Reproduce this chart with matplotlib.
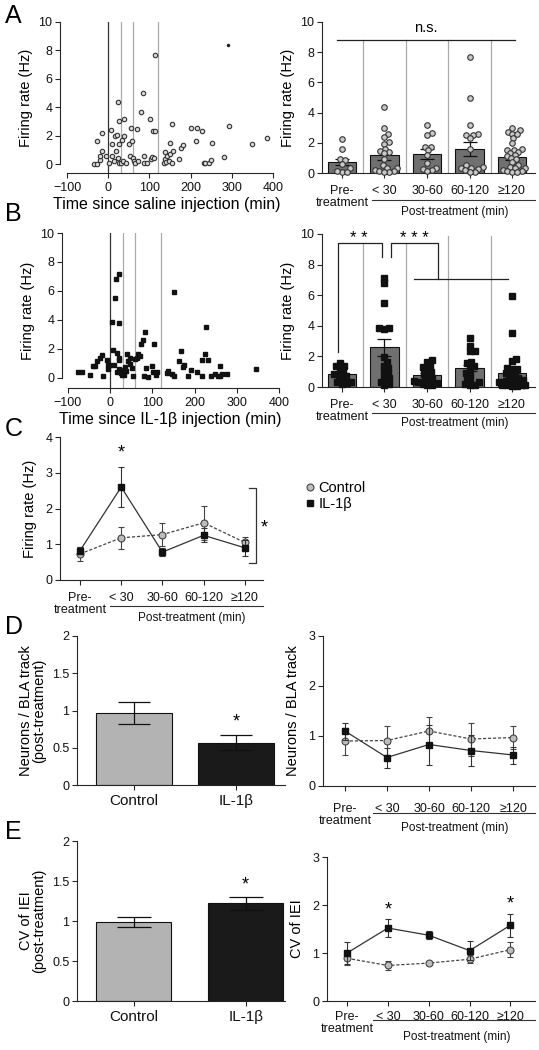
import matplotlib
matplotlib.use('Agg')
import matplotlib.pyplot as plt
import numpy as np
from matplotlib.transforms import blended_transform_factory, ScaledTranslation
from matplotlib.lines import Line2D

plt.rcParams['font.family'] = ['Liberation Sans', 'DejaVu Sans']

# ------------------------------------------------------------------ data
cats = ['Pre-\ntreatment', '< 30', '30-60', '60-120', '\u2265120']

# A: time course after saline
sal_time = [-35, -28, -27, -21, -21, -15, -16, -6, 2, 8,
            10, 10, 14, 16, 20, 22, 23, 24, 26, 26,
            27, 30, 34, 36, 39, 39, 44, 50, 54, 56,
            57, 61, 62, 66, 70, 73, 80, 84, 86, 88,
            93, 102, 104, 106, 109, 114, 114, 110, 135, 137,
            139, 140, 143, 148, 150, 149, 154, 155, 157, 171,
            176, 181, 201, 215, 214, 227, 232, 236, 244, 250,
            252, 281, 294, 350, 385]
sal_rate = [0.0, 0.0, 1.6, 0.3, 0.6, 2.2, 0.9, 0.55, 0.07, 2.4,
            1.4, 0.6, 0.2, 1.95, 0.9, 2.05, 4.4, 0.4, 0.1, 3.0,
            1.4, 0.07, 1.7, 0.2, 3.15, 2.0, 0.07, 1.4, 0.6, 2.55,
            1.6, 0.4, 0.2, 0.1, 2.5, 0.2, 3.65, 5.0, 0.1, 0.6,
            0.07, 3.2, 0.35, 0.5, 2.35, 2.35, 7.7, 0.4, 0.07, 0.85,
            0.35, 0.15, 0.55, 0.2, 1.5, 0.7, 2.85, 0.07, 0.95, 0.35,
            1.1, 1.35, 2.55, 2.55, 1.6, 2.3, 0.07, 0.07, 0.1, 0.3,
            1.5, 0.5, 2.65, 1.4, 1.85]
sal_extra_time = [290]
sal_extra_rate = [8.4]

# B: time course after IL-1beta
il_time = [-76, -67, -47, -41, -35, -31, -25, -20, -18, -8,
           -6, -4, 0, 4, 6, 8, 12, 14, 16, 17,
           20, 20, 21, 20, 22, 25, 28, 30, 31, 34,
           35, 38, 41, 43, 46, 47, 51, 55, 59, 63,
           65, 71, 72, 77, 80, 83, 84, 89, 100, 101,
           105, 109, 110, 134, 138, 146, 152, 152, 163, 169,
           173, 175, 185, 192, 205, 217, 217, 224, 226, 231,
           240, 248, 256, 261, 261, 266, 278, 345]
il_rate = [0.41, 0.39, 0.23, 0.8, 0.8, 1.2, 1.38, 1.56, 0.16, 1.26,
           0.64, 0.92, 0.92, 3.84, 1.95, 0.87, 5.5, 6.8, 0.41, 1.72,
           7.15, 3.79, 1.4, 0.62, 1.26, 0.34, 0.18, 0.57, 0.41, 0.23,
           0.76, 0.5, 1.68, 1.15, 0.99, 1.38, 0.71, 0.11, 1.31, 1.38,
           1.68, 1.54, 2.34, 2.64, 0.16, 3.17, 0.69, 0.07, 0.85, 0.41,
           2.34, 0.23, 0.39, 0.32, 0.46, 0.28, 0.16, 5.95, 1.2, 1.84,
           0.74, 0.87, 0.16, 0.53, 0.44, 0.16, 1.22, 1.68, 3.54, 1.22,
           0.16, 0.3, 0.16, 0.85, 0.16, 0.28, 0.25, 0.64]

# A right: per-bin firing rates (saline)
sal_pre = [2.25, 1.6, 0.9, 0.85, 0.6, 0.3, 0.05, 0.05, 0.1]
sal_lt30 = [4.35, 3.0, 2.6, 2.4, 2.05, 1.95, 1.6, 1.45, 1.4, 1.3, 0.9, 0.5,
            0.35, 0.3, 0.2, 0.15, 0.1, 0.05, 0.05]
sal_30_60 = [3.15, 2.65, 2.5, 1.75, 1.7, 1.5, 1.2, 0.65, 0.3, 0.25, 0.2, 0.1]
sal_60_120 = [7.65, 5.0, 3.15, 2.6, 2.5, 2.5, 2.3, 1.6, 0.5, 0.4, 0.35, 0.3,
              0.25, 0.2, 0.05, 0.05]
sal_ge120 = [3.0, 2.85, 2.7, 2.6, 2.6, 2.3, 2.0, 1.6, 1.55, 1.5, 1.4, 1.3, 1.2,
             1.1, 1.0, 0.9, 0.7, 0.5, 0.4, 0.35, 0.3, 0.2, 0.15, 0.1, 0.05, 0.05]

# B right: per-bin firing rates (IL-1beta)
il_pre = [1.55, 1.4, 1.35, 1.2, 0.95, 0.88, 0.8, 0.7, 0.55, 0.35, 0.3, 0.25, 0.2]
il_lt30 = [7.15, 6.8, 5.5, 3.85, 3.85, 3.8, 1.95, 1.65, 1.4, 1.25, 1.1, 0.9,
           0.75, 0.6, 0.45, 0.35, 0.2, 0.15]
il_30_60 = [1.75, 1.65, 1.4, 1.3, 1.15, 1.0, 0.9, 0.75, 0.6, 0.5, 0.4, 0.35,
            0.3, 0.25, 0.2, 0.15, 0.1]
il_60_120 = [3.2, 2.65, 2.35, 2.35, 1.65, 1.55, 1.4, 1.3, 0.9, 0.8, 0.6, 0.4,
             0.3, 0.2, 0.15, 0.1]
il_ge120 = [5.95, 3.55, 1.85, 1.7, 1.25, 1.2, 1.2, 0.9, 0.85, 0.75, 0.6, 0.5,
            0.45, 0.4, 0.3, 0.3, 0.25, 0.2, 0.15, 0.15, 0.1, 0.1, 0.05, 0.05]

# mean +- SEM firing rate per bin
ctrl_rate_mean = [0.73, 1.18, 1.27, 1.6, 1.05]
ctrl_rate_sem = [0.2, 0.3, 0.32, 0.47, 0.16]
il_rate_mean = [0.82, 2.6, 0.78, 1.25, 0.9]
il_rate_sem = [0.1, 0.56, 0.12, 0.2, 0.22]

# D: neurons per BLA track
groups = ['Control', 'IL-1\u03b2']
track_post_mean = [0.97, 0.57]
track_post_sem = [0.15, 0.1]
ctrl_track_mean = [0.9, 0.91, 1.1, 0.94, 0.97]
ctrl_track_sem = [0.27, 0.29, 0.28, 0.33, 0.23]
il_track_mean = [1.1, 0.57, 0.83, 0.71, 0.62]
il_track_sem = [0.17, 0.2, 0.4, 0.31, 0.17]

# E: CV of inter-event interval
cv_post_mean = [0.99, 1.22]
cv_post_sem = [0.06, 0.08]
ctrl_cv_mean = [0.89, 0.74, 0.79, 0.87, 1.07]
ctrl_cv_sem = [0.15, 0.1, 0.05, 0.08, 0.15]
il_cv_mean = [1.0, 1.52, 1.37, 1.05, 1.58]
il_cv_sem = [0.23, 0.18, 0.08, 0.2, 0.24]

# ------------------------------------------------------------------ layout helpers
W, H = 539, 1050
fig = plt.figure(figsize=(W / 100, H / 100), dpi=100)

AX_COL = '#262626'
TICK_FS = 9
STAR_FS = 13


def add_ax(l, t, r, b):
    return fig.add_axes([l / W, 1 - b / H, (r - l) / W, (b - t) / H])


def prism(ax, xpad=3):
    for s in ('top', 'right'):
        ax.spines[s].set_visible(False)
    for s in ('left', 'bottom'):
        ax.spines[s].set_color(AX_COL)
        ax.spines[s].set_linewidth(0.8)
    ax.tick_params(axis='both', direction='out', length=3.5, width=0.8,
                   color=AX_COL, labelsize=TICK_FS, labelcolor='#111111')
    ax.tick_params(axis='x', pad=xpad)
    ax.tick_params(axis='y', pad=2)
    ax.patch.set_alpha(0)


def below(ax, dy_px):
    return (blended_transform_factory(ax.transData, ax.transAxes)
            + ScaledTranslation(0, -dy_px / 100, fig.dpi_scale_trans))


def post_label(ax, x0, x1, xc, dy_line, dy_text, fs=8.5):
    ax.plot([x0, x1], [0, 0], color='#333333', lw=0.8,
            transform=below(ax, dy_line), clip_on=False)
    ax.text(xc, 0, 'Post-treatment (min)', transform=below(ax, dy_text),
            ha='center', va='center', fontsize=fs, color='#111111')


def swarm(ax, xc, vals, diam_px, maxoff_px):
    trans = ax.transData
    inv = trans.inverted()
    vals = np.asarray(vals, float)
    order = np.argsort(vals)
    xs = np.zeros(len(vals))
    placed = []
    cx = trans.transform((xc, 0))[0]
    steps = [0.0]
    j = 1
    while j * 0.5 <= maxoff_px:
        steps += [j * 0.5, -j * 0.5]
        j += 1
    for i in order:
        py = trans.transform((xc, vals[i]))[1]
        best, bestd = 0.0, -1
        chosen = None
        for off in steps:
            px = cx + off
            d = min([np.hypot(px - qx, py - qy) for qx, qy in placed] or [1e9])
            if d >= diam_px:
                chosen = off
                break
            if d > bestd:
                bestd, best = d, off
        if chosen is None:
            chosen = best
        placed.append((cx + chosen, py))
        xs[i] = inv.transform((cx + chosen, py))[0]
    return xs


def panel_letter(x_px, y_px, s):
    fig.text(x_px / W, 1 - y_px / H, s, fontsize=18, ha='left', va='center')


def star(ax, x, y, s='*'):
    ax.text(x, y, s, ha='center', va='center', fontsize=STAR_FS, clip_on=False)


xcat = np.arange(5)

# ------------------------------------------------------------------ A left
axA = add_ax(60, 22, 273, 173)
prism(axA)
axA.set_xlim(-117, 400)
axA.set_ylim(-0.63, 10)
axA.spines['left'].set_bounds(0, 10)
axA.spines['bottom'].set_bounds(-100, 400)
axA.set_xticks([-100, 0, 100, 200, 300, 400])
axA.set_yticks([0, 2, 4, 6, 8, 10])
for xv, c in zip([0, 30, 60, 120], ['#333333', '#aaaaaa', '#aaaaaa', '#aaaaaa']):
    axA.plot([xv, xv], [-0.63, 10], color=c, lw=0.9, zorder=1)
axA.plot(sal_time, sal_rate, 'o', ms=3.2, mfc='#d9d9d9', mec='#333333', mew=0.8,
         ls='none', clip_on=False, zorder=3)
axA.plot(sal_extra_time, sal_extra_rate, 'o', ms=1.5, color='#222222', ls='none')
axA.set_ylabel('Firing rate (Hz)', fontsize=10.5, labelpad=4)
axA.set_xlabel('Time since saline injection (min)', fontsize=11.5, labelpad=2)
panel_letter(5, 16, 'A')

# ------------------------------------------------------------------ A right
axAr = add_ax(322, 22, 535, 173)
prism(axAr, xpad=5)
axAr.set_xlim(-0.47, 4.54)
axAr.set_ylim(0, 10)
axAr.set_yticks([0, 2, 4, 6, 8, 10])
axAr.set_xticks(xcat)
axAr.set_xticklabels(cats, fontsize=TICK_FS, linespacing=1.05)
for xs_ in [0.5, 1.5, 2.5, 3.5]:
    axAr.plot([xs_, xs_], [0, 8.8], color='#aaaaaa', lw=0.9, zorder=0)
axAr.bar(xcat, ctrl_rate_mean, width=0.68, color='#707070', edgecolor='#111111',
         lw=0.8, zorder=1)
axAr.errorbar(xcat, ctrl_rate_mean, yerr=ctrl_rate_sem, fmt='none', ecolor='#111111',
              elinewidth=0.9, capsize=5, capthick=0.9, zorder=2)
for k, g in enumerate([sal_pre, sal_lt30, sal_30_60, sal_60_120, sal_ge120]):
    xs = swarm(axAr, k, g, 4.6, 13)
    axAr.plot(xs, g, 'o', ms=4.0, mfc='#c8c8c8', mec='#333333', mew=0.8, ls='none',
              clip_on=False, zorder=3)
axAr.plot([-0.12, 4.07], [8.8, 8.8], color='#222222', lw=0.9)
axAr.text(1.97, 9.6, 'n.s.', ha='center', va='center', fontsize=10.5)
axAr.set_ylabel('Firing rate (Hz)', fontsize=10.5, labelpad=4)
post_label(axAr, 0.7, 4.54, 2.66, 27, 39)

# ------------------------------------------------------------------ B left
axB = add_ax(62, 233, 279, 388)
prism(axB)
axB.set_xlim(-114, 400)
axB.set_ylim(-0.69, 10)
axB.spines['left'].set_bounds(0, 10)
axB.spines['bottom'].set_bounds(-100, 400)
axB.set_xticks([-100, 0, 100, 200, 300, 400])
axB.set_yticks([0, 2, 4, 6, 8, 10])
for xv, c in zip([0, 30, 60, 120], ['#333333', '#aaaaaa', '#aaaaaa', '#aaaaaa']):
    axB.plot([xv, xv], [-0.69, 10], color=c, lw=0.9, zorder=1)
axB.plot(il_time, il_rate, 's', ms=3.4, color='#111111', ls='none', clip_on=False, zorder=3)
axB.set_ylabel('Firing rate (Hz)', fontsize=10.5, labelpad=4)
axB.set_xlabel('Time since IL-1\u03b2 injection (min)', fontsize=11.5, labelpad=2)
panel_letter(5, 214, 'B')

# ------------------------------------------------------------------ B right
axBr = add_ax(322, 234, 535, 387)
prism(axBr, xpad=5)
axBr.set_xlim(-0.47, 4.54)
axBr.set_ylim(0, 10)
axBr.set_yticks([0, 2, 4, 6, 8, 10])
axBr.set_xticks(xcat)
axBr.set_xticklabels(cats, fontsize=TICK_FS, linespacing=1.05)
for xs_, top in zip([0.5, 1.5, 2.5, 3.5], [9.4, 9.4, 9.9, 9.9]):
    axBr.plot([xs_, xs_], [0, top], color='#aaaaaa', lw=0.9, zorder=0)
axBr.bar(xcat, il_rate_mean, width=0.68, color='#707070', edgecolor='#111111',
         lw=0.8, zorder=1)
axBr.errorbar(xcat, il_rate_mean, yerr=il_rate_sem, fmt='none', ecolor='#111111',
              elinewidth=0.9, capsize=5, capthick=0.9, zorder=2)
for k, g in enumerate([il_pre, il_lt30, il_30_60, il_60_120, il_ge120]):
    xs = swarm(axBr, k, g, 4.6, 13)
    axBr.plot(xs, g, 's', ms=3.8, color='#111111', ls='none', clip_on=False, zorder=3)
# significance brackets
axBr.plot([-0.1, -0.1, 0.94, 0.94], [2.3, 9.4, 9.4, 8.5], color='#222222', lw=0.9)
axBr.plot([1.15, 1.15, 2.26, 2.26], [8.5, 9.4, 9.4, 7.05], color='#222222', lw=0.9)
axBr.plot([1.7, 3.9], [7.05, 7.05], color='#222222', lw=0.9)
axBr.text(0.4, 9.7, '* *', ha='center', va='center', fontsize=12)
axBr.text(1.7, 9.7, '* * *', ha='center', va='center', fontsize=12)
axBr.set_ylabel('Firing rate (Hz)', fontsize=10.5, labelpad=4)
post_label(axBr, 0.7, 4.54, 2.66, 26, 36)

# ------------------------------------------------------------------ C
axC = add_ax(60, 437, 263, 580)
prism(axC, xpad=5)
axC.set_xlim(-0.485, 4.44)
axC.set_ylim(0, 4)
axC.set_yticks([0, 1, 2, 3, 4])
axC.set_xticks(xcat)
axC.set_xticklabels(cats, fontsize=TICK_FS, linespacing=1.05)
axC.errorbar(xcat, ctrl_rate_mean, yerr=ctrl_rate_sem, fmt='--o', color='#444444',
             lw=0.9, ms=5, mfc='#bdbdbd', mec='#444444', mew=0.8, ecolor='#444444',
             elinewidth=0.8, capsize=2.5, capthick=0.8, zorder=3, dashes=(2.5, 1.5))
axC.errorbar(xcat, il_rate_mean, yerr=il_rate_sem, fmt='-s', color='#333333',
             lw=0.9, ms=5, mfc='#111111', mec='#111111', ecolor='#333333',
             elinewidth=0.8, capsize=2.5, capthick=0.8, zorder=4)
star(axC, 1, 3.55)
axC.plot([4.1, 4.28, 4.28, 4.1], [2.58, 2.58, 0.47, 0.47], color='#333333', lw=0.9,
         clip_on=False)
star(axC, 4.47, 1.45)
axC.set_ylabel('Firing rate (Hz)', fontsize=10.5, labelpad=6)
post_label(axC, 0.72, 4.44, 2.7, 26, 38)
handles = [Line2D([], [], marker='o', ls='none', ms=5, mfc='#bdbdbd', mec='#444444', mew=0.8),
           Line2D([], [], marker='s', ls='none', ms=5, mfc='#111111', mec='#111111')]
axC.legend(handles, ['Control', 'IL-1\u03b2'], loc='upper left',
           bbox_to_anchor=(1.18, 0.74), frameon=False, fontsize=10.5,
           handlelength=0.5, handletextpad=0.3, labelspacing=0.1, borderpad=0)
panel_letter(5, 429, 'C')

# ------------------------------------------------------------------ D left
axD = add_ax(77, 636, 285, 785)
prism(axD)
axD.set_xlim(-0.56, 1.48)
axD.set_ylim(0, 2)
axD.set_yticks([0, 0.5, 1, 1.5, 2])
axD.set_yticklabels(['0', '0.5', '1', '1.5', '2'])
axD.set_xticks([0, 1])
axD.set_xticklabels(groups, fontsize=11)
axD.bar([0, 1], track_post_mean, width=0.74, color=['#b3b3b3', '#1a1a1a'],
        edgecolor='#111111', lw=0.8)
axD.errorbar([0, 1], track_post_mean, yerr=track_post_sem, fmt='none', ecolor='#111111',
             elinewidth=0.9, capsize=11.5, capthick=0.9)
star(axD, 1, 0.84)
axD.set_ylabel('Neurons / BLA track\n(post-treatment)', fontsize=10.5, labelpad=4,
               linespacing=1.0)
panel_letter(5, 627, 'D')

# ------------------------------------------------------------------ D right
axDr = add_ax(323, 636, 535, 786)
prism(axDr, xpad=9)
axDr.set_xlim(-0.52, 4.52)
axDr.set_ylim(0, 3)
axDr.set_yticks([0, 1, 2, 3])
axDr.set_xticks(xcat)
axDr.set_xticklabels(cats, fontsize=TICK_FS, linespacing=1.0)
axDr.errorbar(xcat, ctrl_track_mean, yerr=ctrl_track_sem, fmt='--o', color='#444444',
              lw=0.9, ms=5, mfc='#bdbdbd', mec='#444444', mew=0.8, ecolor='#444444',
              elinewidth=0.8, capsize=2.5, capthick=0.8, zorder=3, dashes=(2.5, 1.5))
axDr.errorbar(xcat, il_track_mean, yerr=il_track_sem, fmt='-s', color='#333333',
              lw=0.9, ms=5, mfc='#111111', mec='#111111', ecolor='#333333',
              elinewidth=0.8, capsize=2.5, capthick=0.8, zorder=4)
axDr.set_ylabel('Neurons / BLA track', fontsize=10.5, labelpad=6)
post_label(axDr, 0.67, 4.52, 2.62, 27, 42)

# ------------------------------------------------------------------ E left
axE = add_ax(77, 841, 285, 1001)
prism(axE)
axE.set_xlim(-0.504, 1.35)
axE.set_ylim(0, 2)
axE.set_yticks([0, 0.5, 1, 1.5, 2])
axE.set_yticklabels(['0', '0.5', '1', '1.5', '2'])
axE.set_xticks([0, 1])
axE.set_xticklabels(groups, fontsize=11)
axE.bar([0, 1], cv_post_mean, width=0.67, color=['#b3b3b3', '#1a1a1a'],
        edgecolor='#111111', lw=0.8)
axE.errorbar([0, 1], cv_post_mean, yerr=cv_post_sem, fmt='none', ecolor='#111111',
             elinewidth=0.9, capsize=12, capthick=0.9)
star(axE, 1, 1.45)
axE.set_ylabel('CV of IEI\n(post-treatment)', fontsize=10.5, labelpad=4, linespacing=1.0)
panel_letter(5, 832, 'E')

# ------------------------------------------------------------------ E right
axEr = add_ax(327, 857, 535, 1001)
prism(axEr, xpad=4)
axEr.set_xlim(-0.49, 4.6)
axEr.set_ylim(0, 3)
axEr.set_yticks([0, 1, 2, 3])
axEr.set_xticks(xcat)
axEr.set_xticklabels(cats, fontsize=TICK_FS, linespacing=1.0)
axEr.errorbar(xcat, ctrl_cv_mean, yerr=ctrl_cv_sem, fmt='--o', color='#444444',
              lw=0.9, ms=5, mfc='#bdbdbd', mec='#444444', mew=0.8, ecolor='#444444',
              elinewidth=0.8, capsize=2.5, capthick=0.8, zorder=3, dashes=(2.5, 1.5))
axEr.errorbar(xcat, il_cv_mean, yerr=il_cv_sem, fmt='-s', color='#333333',
              lw=0.9, ms=5, mfc='#111111', mec='#111111', ecolor='#333333',
              elinewidth=0.8, capsize=2.5, capthick=0.8, zorder=4)
star(axEr, 1, 1.9)
star(axEr, 4, 2.02)
axEr.set_ylabel('CV of IEI', fontsize=10.5, labelpad=6)
post_label(axEr, 0.64, 4.6, 2.68, 19, 36)

fig.savefig('out.png', dpi=100)
